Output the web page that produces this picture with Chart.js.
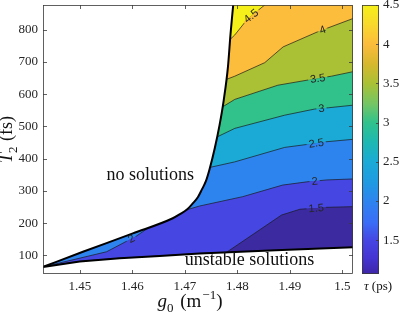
<!DOCTYPE html>
<html>
<head>
<meta charset="utf-8">
<script src="https://cdn.jsdelivr.net/npm/chart.js@4.4.1/dist/chart.umd.min.js"></script>
<style>
html, body { margin: 0; padding: 0; background: #fff; overflow: hidden; }
#wrap { position: relative; width: 399px; height: 313px; }
#main { position: absolute; left: 0; top: 0; }
#cbar { position: absolute; left: 355px; top: 0; }
</style>
</head>
<body>
<div id="wrap">
    <canvas id="main" width="399" height="313"></canvas>
    <canvas id="cbar" width="44" height="313"></canvas>
</div>
<script>
const xMin = 1.443, xMax = 1.502;
const yMin = 42, yMax = 877;
const cbMin = 1.07, cbMax = 4.5;

const xTicks = [1.45, 1.46, 1.47, 1.48, 1.49, 1.5];
const xTickLabels = ['1.45', '1.46', '1.47', '1.48', '1.49', '1.5'];
const yTicks = [100, 200, 300, 400, 500, 600, 700, 800];
const cbTicks = [1.5, 2, 2.5, 3, 3.5, 4, 4.5];
const cbTickLabels = ['1.5', '2', '2.5', '3', '3.5', '4', '4.5'];

// tau levels and the fill colour of the band above each level
const levels = [1.5, 2, 2.5, 3, 3.5, 4, 4.5];
const bandColors = ['#3b2aa0', '#4646e3', '#2e84ef', '#1baad6', '#31c28c', '#aac135', '#fcbc3c', '#f6f01a'];

// colormap for the colorbar (position 0..1, colour)
const cmapT = [0, 0.06, 0.125, 0.19, 0.271, 0.34, 0.417, 0.49, 0.563, 0.63, 0.708, 0.78, 0.854, 0.93, 1];
const cmapColors = ['#3e26a8', '#4535d2', '#4646e3', '#3a6cf7', '#2e84ef', '#1f9ae2', '#1baad6', '#1db8b2',
                    '#31c28c', '#72c566', '#aac135', '#d6b82e', '#fcbc3c', '#f8da2c', '#f6f01a'];

// edge of the "no solutions" region
const upperEdgeX = [1.443, 1.4506, 1.4601, 1.4677, 1.4690, 1.4704, 1.4715, 1.4725, 1.4732, 1.4740, 1.4747, 1.4757, 1.4766, 1.4774, 1.4782, 1.4787, 1.4792];
const upperEdgeY = [64, 111, 168, 215, 227, 242, 261, 281, 303, 330, 367, 433, 504, 582, 685, 789, 877];
// edge of the "unstable solutions" region
const lowerEdgeX = [1.443, 1.45, 1.4576, 1.4652, 1.4728, 1.4873, 1.502];
const lowerEdgeY = [64, 81, 91, 98, 106, 116, 125];

// contour lines
const c15X = [1.4779, 1.4884, 1.4919, 1.4970, 1.502];
const c15Y = [109, 225, 243, 249, 251];
const c2X = [1.443, 1.4551, 1.4608, 1.4633, 1.4677, 1.4690, 1.4703, 1.4728, 1.4810, 1.4886, 1.4932, 1.4970, 1.502];
const c2Y = [64, 111, 160, 188, 215, 227, 241, 253, 282, 318, 328, 334, 337];
const c25X = [1.4748, 1.4795, 1.4890, 1.4932, 1.4966, 1.502];
const c25Y = [373, 390, 435, 444, 452, 460];
const c3X = [1.4762, 1.4795, 1.4890, 1.4947, 1.4973, 1.502];
const c3Y = [468, 494, 535, 554, 558, 566];
const c35X = [1.4772, 1.4795, 1.4877, 1.4941, 1.4979, 1.502];
const c35Y = [561, 584, 628, 646, 656, 670];
const c4X = [1.4779, 1.4795, 1.4852, 1.4887, 1.4953, 1.502];
const c4Y = [646, 656, 698, 747, 794, 835];
const c45X = [1.4786, 1.4795, 1.4820, 1.4852];
const c45Y = [770, 784, 835, 877];

// contour labels
const labelLevels = [4.5, 4, 3.5, 3, 2.5, 2, 1.5, 2];
const labelX = [1.4826, 1.4962, 1.4953, 1.4960, 1.4950, 1.4947, 1.4950, 1.4598];

// region notes
const noteText = ['no solutions', 'unstable solutions'];
const noteX = [1.4551, 1.4700];
const noteY = [335, 70];

const SERIF = '"Liberation Serif", "Times New Roman", serif';

const pts = (xs, ys) => xs.map((x, i) => ({ x: x, y: ys[i] }));

const contours = [
    { xs: c15X, ys: c15Y }, { xs: c2X, ys: c2Y }, { xs: c25X, ys: c25Y }, { xs: c3X, ys: c3Y },
    { xs: c35X, ys: c35Y }, { xs: c4X, ys: c4Y }, { xs: c45X, ys: c45Y }
];

// the 1.5 band sits on the lower edge until its contour leaves it
const band15 = pts(lowerEdgeX, lowerEdgeY).filter(p => p.x < c15X[0]).concat(pts(c15X, c15Y));

const layers = [];
layers.push({ data: pts(lowerEdgeX, lowerEdgeY), fill: 'end', backgroundColor: bandColors[0], borderWidth: 0 });
contours.forEach((c, k) => {
    layers.push({
        data: k === 0 ? band15 : pts(c.xs, c.ys),
        fill: 'end',
        backgroundColor: bandColors[k + 1],
        borderColor: '#1a1a1a',
        borderWidth: 0.7
    });
});
layers.push({ data: pts(upperEdgeX, upperEdgeY), fill: 'end', backgroundColor: '#fff', borderColor: '#000', borderWidth: 2, cubicInterpolationMode: 'monotone' });
layers.push({ data: pts(lowerEdgeX, lowerEdgeY), fill: 'start', backgroundColor: '#fff', borderColor: '#000', borderWidth: 2 });
layers.forEach((d, i) => {
    d.order = layers.length - i;
    d.pointRadius = 0;
    d.borderJoinStyle = 'round';
});

function noPad(s) {
    s.paddingTop = 0; s.paddingBottom = 0; s.paddingLeft = 0; s.paddingRight = 0;
}

function drawRich(ctx, pieces, cx, base, size) {
    const fontOf = p => (p.it ? 'italic ' : '') + (p.sub || p.sup ? Math.round(size * 0.7) : size) + 'px ' + SERIF;
    let total = 0;
    pieces.forEach(p => { ctx.font = fontOf(p); total += ctx.measureText(p.t).width + (p.gap || 0); });
    let xx = cx - total / 2;
    ctx.textAlign = 'left';
    ctx.textBaseline = 'alphabetic';
    pieces.forEach(p => {
        ctx.font = fontOf(p);
        const dy = p.sub ? size * 0.25 : (p.sup ? -size * 0.4 : 0);
        ctx.fillText(p.t, xx, base + dy);
        xx += ctx.measureText(p.t).width + (p.gap || 0);
    });
}

const decor = {
    id: 'decor',
    afterDatasetsDraw(chart) {
        const { ctx, chartArea: a, scales: { x, y } } = chart;
        ctx.save();

        // contour labels, with the line broken underneath
        ctx.font = '11px "Liberation Sans", Arial, sans-serif';
        ctx.textAlign = 'center';
        ctx.textBaseline = 'middle';
        labelLevels.forEach((lv, j) => {
            const k = levels.indexOf(lv);
            const c = contours[k];
            let i = 0;
            while (i < c.xs.length - 2 && c.xs[i + 1] < labelX[j]) i++;
            const px0 = x.getPixelForValue(c.xs[i]), py0 = y.getPixelForValue(c.ys[i]);
            const px1 = x.getPixelForValue(c.xs[i + 1]), py1 = y.getPixelForValue(c.ys[i + 1]);
            const t = (x.getPixelForValue(labelX[j]) - px0) / (px1 - px0);
            const px = px0 + t * (px1 - px0), py = py0 + t * (py1 - py0);
            const ang = Math.atan2(py1 - py0, px1 - px0);
            const text = String(lv);
            const w = ctx.measureText(text).width + 4;
            ctx.save();
            ctx.translate(px, py);
            ctx.rotate(ang);
            ctx.fillStyle = bandColors[k + 1];
            ctx.fillRect(-w / 2, -2.5, w, 2.6);
            ctx.fillStyle = bandColors[k];
            ctx.fillRect(-w / 2, 0, w, 2.5);
            ctx.fillStyle = '#262626';
            ctx.fillText(text, 0, 0.5);
            ctx.restore();
        });

        // region notes
        ctx.font = '18px ' + SERIF;
        ctx.fillStyle = '#111';
        ctx.textAlign = 'left';
        ctx.textBaseline = 'alphabetic';
        noteText.forEach((s, i) => ctx.fillText(s, x.getPixelForValue(noteX[i]), y.getPixelForValue(noteY[i])));

        // box and inward ticks
        ctx.strokeStyle = '#3a3a3a';
        ctx.lineWidth = 0.8;
        ctx.strokeRect(a.left + 0.5, a.top + 0.5, a.right - a.left - 1, a.bottom - a.top - 1);
        ctx.beginPath();
        xTicks.forEach(v => {
            const p = Math.round(x.getPixelForValue(v)) + 0.5;
            ctx.moveTo(p, a.bottom); ctx.lineTo(p, a.bottom - 4);
            ctx.moveTo(p, a.top); ctx.lineTo(p, a.top + 4);
        });
        yTicks.forEach(v => {
            const p = Math.round(y.getPixelForValue(v)) + 0.5;
            ctx.moveTo(a.left, p); ctx.lineTo(a.left + 4, p);
            ctx.moveTo(a.right, p); ctx.lineTo(a.right - 4, p);
        });
        ctx.stroke();
        ctx.restore();
    },
    afterDraw(chart) {
        const { ctx, chartArea: a } = chart;
        ctx.save();
        ctx.fillStyle = '#111';
        drawRich(ctx, [{ t: 'g', it: true }, { t: '0', sub: true, gap: 2 }, { t: ' (m', gap: 1 }, { t: '\u22121', sup: true }, { t: ')' }],
            190, 307, 19);
        ctx.translate(12, (a.top + a.bottom) / 2);
        ctx.rotate(-Math.PI / 2);
        drawRich(ctx, [{ t: 'T', it: true }, { t: '2', sub: true, gap: 1 }, { t: ' (fs)' }], 0, 0, 18);
        ctx.restore();
    }
};

new Chart(document.getElementById('main'), {
    type: 'line',
    data: { datasets: layers },
    options: {
        responsive: false,
        animation: false,
        events: [],
        layout: { padding: { left: 0, top: 5, right: 46, bottom: 0 } },
        plugins: { legend: { display: false }, tooltip: { enabled: false } },
        scales: {
            x: {
                type: 'linear', min: xMin, max: xMax,
                afterBuildTicks: s => { s.ticks = xTicks.map(v => ({ value: v })); },
                afterFit: s => { s.height = 39; noPad(s); },
                grid: { display: false, drawTicks: false },
                border: { display: false },
                ticks: { padding: 5, autoSkip: false, maxRotation: 0, color: '#262626',
                         font: { family: SERIF, size: 13 }, callback: (v, i) => xTickLabels[i] }
            },
            y: {
                type: 'linear', min: yMin, max: yMax,
                afterBuildTicks: s => { s.ticks = yTicks.map(v => ({ value: v })); },
                afterFit: s => { s.width = 43; noPad(s); },
                grid: { display: false, drawTicks: false },
                border: { display: false },
                ticks: { padding: 5, autoSkip: false, color: '#262626',
                         font: { family: SERIF, size: 13 }, callback: v => String(v) }
            }
        }
    },
    plugins: [decor]
});

const cbarDecor = {
    id: 'cbarDecor',
    afterDraw(chart) {
        const { ctx, chartArea: a, scales: { y } } = chart;
        ctx.save();
        ctx.strokeStyle = '#3a3a3a';
        ctx.lineWidth = 0.8;
        ctx.strokeRect(a.left + 0.5, a.top + 0.5, a.right - a.left - 1, a.bottom - a.top - 1);
        ctx.beginPath();
        cbTicks.forEach(v => {
            const p = Math.round(y.getPixelForValue(v)) + 0.5;
            ctx.moveTo(a.right, p); ctx.lineTo(a.right - 3, p);
        });
        ctx.stroke();
        ctx.fillStyle = '#111';
        drawRich(ctx, [{ t: '\u03c4', it: true }, { t: ' (ps)' }], 23, 290, 13);
        ctx.restore();
    }
};

new Chart(document.getElementById('cbar'), {
    type: 'bar',
    data: {
        labels: [''],
        datasets: [{
            data: [[cbMin, cbMax]],
            barPercentage: 1,
            categoryPercentage: 1,
            borderWidth: 0,
            borderSkipped: false,
            backgroundColor: c => {
                const { ctx, chartArea } = c.chart;
                if (!chartArea) return null;
                const g = ctx.createLinearGradient(0, chartArea.bottom, 0, chartArea.top);
                cmapT.forEach((t, i) => g.addColorStop(t, cmapColors[i]));
                return g;
            }
        }]
    },
    options: {
        responsive: false,
        animation: false,
        events: [],
        layout: { padding: { left: 7, top: 5, right: 0, bottom: 39 } },
        plugins: { legend: { display: false }, tooltip: { enabled: false } },
        scales: {
            x: { display: false },
            y: {
                position: 'right', min: cbMin, max: cbMax,
                afterBuildTicks: s => { s.ticks = cbTicks.map(v => ({ value: v })); },
                afterFit: s => { s.width = 20; noPad(s); },
                grid: { display: false, drawTicks: false },
                border: { display: false },
                ticks: { padding: 4, autoSkip: false, color: '#262626',
                         font: { family: SERIF, size: 13 }, callback: (v, i) => cbTickLabels[i] }
            }
        }
    },
    plugins: [cbarDecor]
});
</script>
</body>
</html>
